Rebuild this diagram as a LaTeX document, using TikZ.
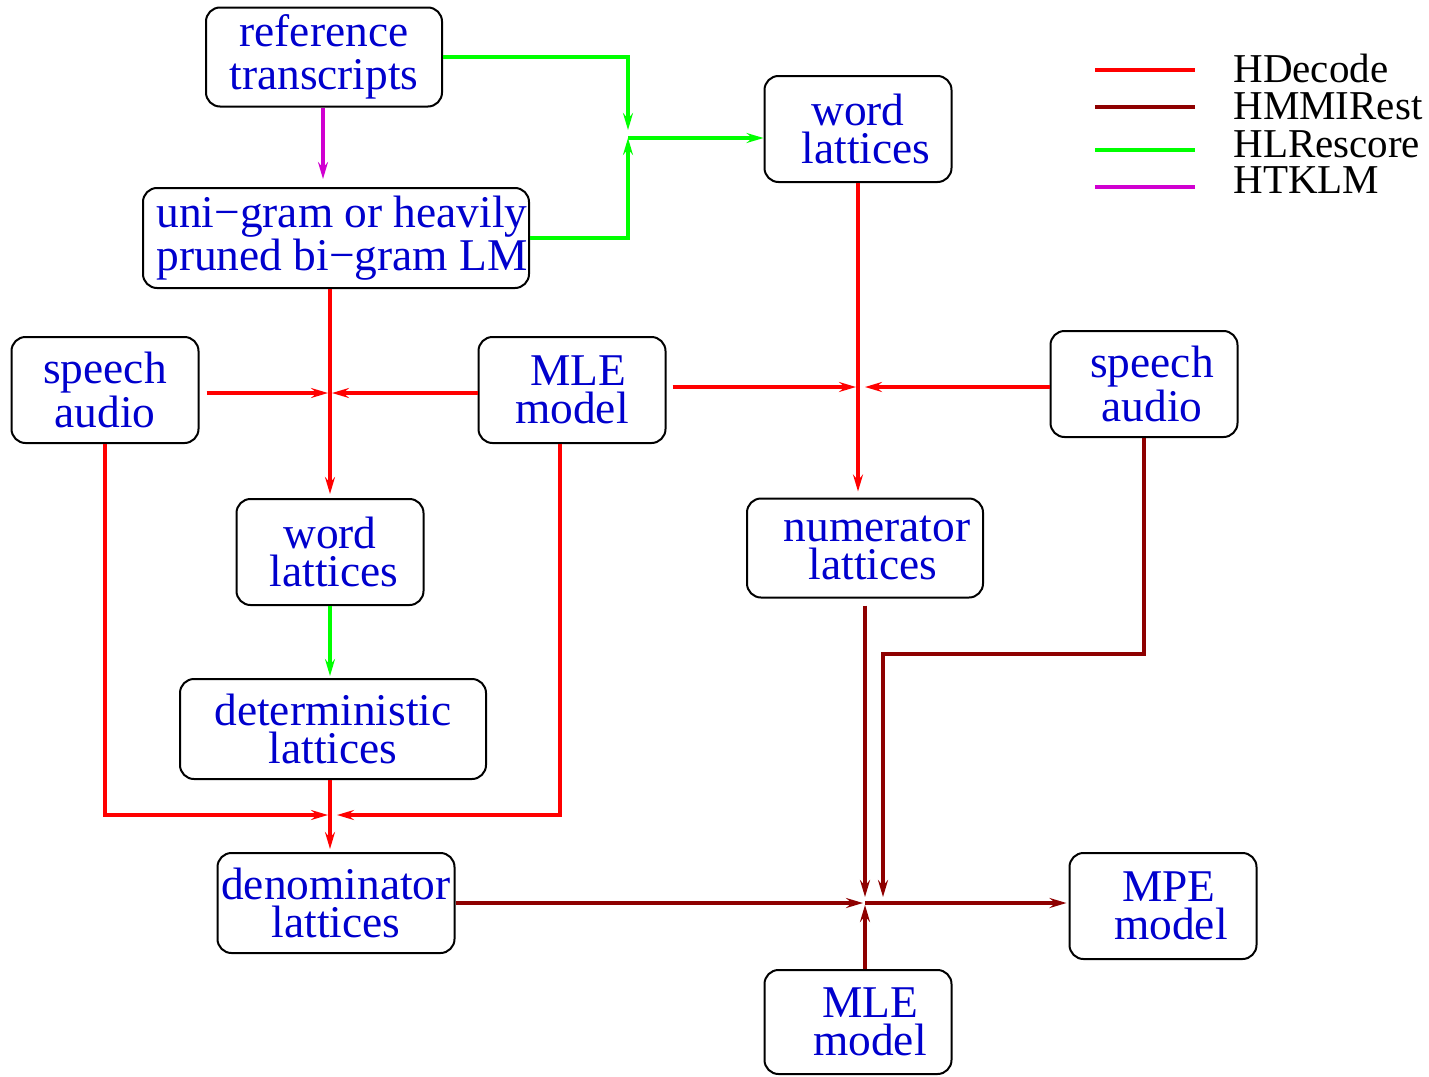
\documentclass[tikz,border=0pt]{standalone}
\usepackage{fontspec}
\setmainfont{Liberation Serif}
\usetikzlibrary{arrows.meta,calc}
\definecolor{txtblue}{RGB}{0,0,205}
\definecolor{hdred}{RGB}{255,0,0}
\definecolor{hmred}{RGB}{142,0,0}
\definecolor{hlgreen}{RGB}{0,255,0}
\definecolor{htmag}{RGB}{208,0,208}
\begin{document}
\begin{tikzpicture}[x=0.5pt,y=-0.5pt,
  box/.style={draw=black,line width=1pt,rounded corners=7pt,inner sep=0pt,
    align=center,text=txtblue,font=\fontsize{22.7}{19.2}\selectfont},
  tallbox/.style={box,font=\fontsize{22.7}{21.5}\selectfont},
  tip/.style={-{Stealth[length=8.5pt,width=5pt,inset=3pt]}},
  hd/.style={draw=hdred,line width=2pt},
  hm/.style={draw=hmred,line width=2pt},
  hl/.style={draw=hlgreen,line width=2pt},
  ht/.style={draw=htmag,line width=1.6pt},
  legtext/.style={anchor=base west,inner sep=0pt,font=\fontsize{20.5}{20}\selectfont}]
\useasboundingbox (0,0) rectangle (1429,1076);

% boxes
\node[tallbox,minimum width=118pt,minimum height=49.5pt] (ref) at (324,57) {reference\\transcripts};
\node[tallbox,minimum width=193pt,minimum height=50pt] (uni) at (336,238) {\hspace*{6pt}uni−gram or heavily\\\hspace*{6pt}pruned bi−gram LM};
\node[box,minimum width=93.5pt,minimum height=53pt] (wl1) at (858,129) {word\\\hspace*{8pt}lattices};
\node[box,minimum width=93.5pt,minimum height=53pt] (sa1) at (105,390) {speech\\audio};
\node[box,minimum width=93.5pt,minimum height=53pt] (mle1) at (572,390) {\hspace*{6pt}MLE\\model};
\node[box,minimum width=93.5pt,minimum height=53pt] (sa2) at (1144,384) {\hspace*{8pt}speech\\\hspace*{8pt}audio};
\node[box,minimum width=93.5pt,minimum height=53pt] (wl2) at (330,552) {word\\\hspace*{4pt}lattices};
\node[box,minimum width=118pt,minimum height=49.5pt] (num) at (865,548) {\hspace*{12pt}numerator\\\hspace*{8pt}lattices};
\node[box,minimum width=153pt,minimum height=50pt] (det) at (333,729) {deterministic\\lattices};
\node[box,minimum width=118.5pt,minimum height=50pt] (den) at (336,903) {denominator\\lattices};
\node[box,minimum width=93.5pt,minimum height=53pt] (mpe) at (1163,906) {\hspace*{6pt}MPE\\\hspace*{8pt}model};
\node[box,minimum width=93.5pt,minimum height=52pt] (mle2) at (858,1022) {\hspace*{12pt}MLE\\\hspace*{12pt}model};

% junction coordinates
\coordinate (gj) at (628,138);
\coordinate (gjt) at (628,130);
\coordinate (rj1) at (330,393);
\coordinate (rj2) at (330,815);
\coordinate (rj3) at (858,387);
\coordinate (dj) at (865,903);
\coordinate (sa2c) at (883,654);

% HLRescore (green)
\draw[hl,tip] (ref.east) -| (gjt);
\draw[hl,tip] (uni.east) -| (gj);
\draw[hl,tip] (gj) -- (gj -| wl1.west);
\draw[hl,tip,shorten >=1pt] (wl2.south) -- (wl2.south |- det.north);

% HTKLM (magenta)
\draw[ht,tip,shorten >=4pt] ($(ref.south)+(-1,0)$) -- ($(ref.south |- uni.north)+(-1,0)$);

% HDecode (red)
\draw[hd,tip,shorten >=2pt] (uni.south -| rj1) -- (wl2.north -| rj1);
\draw[hd,tip] ($(sa1.east |- rj1)+(7,0)$) -- ($(rj1)+(-2,0)$);
\draw[hd,tip] (mle1.west |- rj1) -- ($(rj1)+(2,0)$);
\draw[hd,tip,shorten >=3pt] (wl1.south) -- (wl1.south |- num.north);
\draw[hd,tip] ($(mle1.east |- rj3)+(6,0)$) -- ($(rj3)+(-2,0)$);
\draw[hd,tip] (sa2.west |- rj3) -- ($(rj3)+(7,0)$);
\draw[hd,tip,shorten >=1.5pt] (det.south -| rj2) -- (den.north -| rj2);
\draw[hd,tip] (sa1.south) |- ($(rj2)+(-2,0)$);
\draw[hd,tip] ($(mle1.south)+(-12,0)$) |- ($(rj2)+(7,0)$);

% HMMIRest (dark red)
\draw[hm,tip] ($(num.south)+(0,7)$) -- ($(dj)+(0,-6)$);
\draw[hm,tip] (sa2.south) |- (sa2c) -- ($(sa2c |- dj)+(0,-6)$);
\draw[hm,tip] (den.east) -- ($(dj)+(-2,0)$);
\draw[hm,tip] (dj |- mle2.north) -- ($(dj)+(0,2)$);
\draw[hm,tip,shorten >=1pt] (dj) -- (dj -| mpe.west);

% legend
\node[legtext] (lg1) at (1233,82) {HDecode};
\node[legtext] (lg2) at (1233,119) {HMMIRest};
\node[legtext] (lg3) at (1233,157) {HLRescore};
\node[legtext] (lg4) at (1233,193) {HTKLM};
\draw[hd,line width=2pt] (1095,70) -- (1195,70);
\draw[hm,line width=2pt] (1095,107) -- (1195,107);
\draw[hl,line width=2pt] (1095,150) -- (1195,150);
\draw[ht,line width=2pt] (1095,187) -- (1195,187);
\end{tikzpicture}
\end{document}
